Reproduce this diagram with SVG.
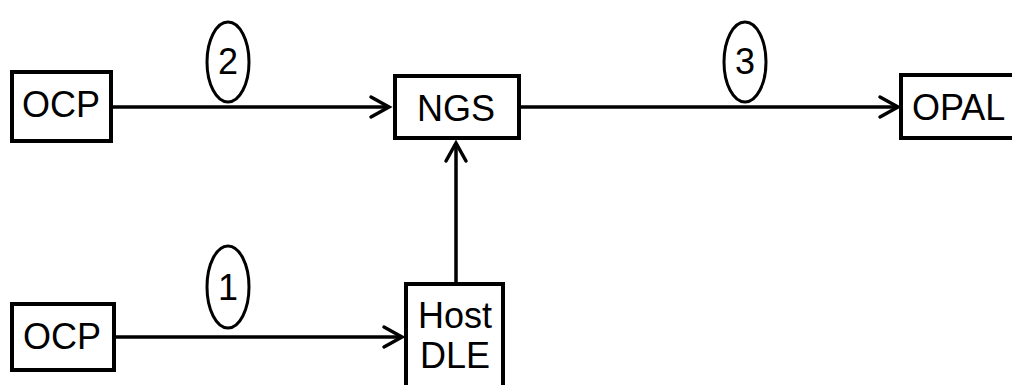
<svg xmlns="http://www.w3.org/2000/svg" width="1012" height="385" viewBox="0 0 1012 385">
  <defs>
    <style>
      .box { fill: #fff; stroke: #000; stroke-width: 4; }
      .lbl { font-family: "Liberation Sans", Arial, sans-serif; font-size: 36px; fill: #000; text-anchor: middle; }
      .edge { fill: none; stroke: #000; stroke-width: 3.5; }
      .head { fill: none; stroke: #000; stroke-width: 3.5; stroke-linecap: round; stroke-linejoin: miter; }
      .step { fill: #fff; stroke: #000; stroke-width: 3; }
    </style>
  </defs>
  <rect width="1012" height="385" fill="#fff"/>

  <!-- connectors -->
  <g id="connectors">
    <line class="edge" x1="113" y1="107" x2="388" y2="107"/>
    <polyline class="head" points="371,97 389,107 371,117"/>
    <line class="edge" x1="521" y1="107" x2="897" y2="107"/>
    <polyline class="head" points="880,97 898,107 880,117"/>
    <line class="edge" x1="116" y1="337" x2="401" y2="337"/>
    <polyline class="head" points="384,327 402,337 384,347"/>
    <line class="edge" x1="456" y1="283" x2="456" y2="144"/>
    <polyline class="head" points="446,161 456,143 466,161"/>
  </g>

  <!-- step markers -->
  <g id="step-2">
    <ellipse class="step" cx="228" cy="62" rx="21" ry="40"/>
    <text class="lbl" x="228" y="74">2</text>
  </g>
  <g id="step-1">
    <ellipse class="step" cx="228" cy="287" rx="21" ry="41"/>
    <text class="lbl" x="228" y="300">1</text>
  </g>
  <g id="step-3">
    <ellipse class="step" cx="745" cy="62" rx="21" ry="40"/>
    <text class="lbl" x="745" y="74">3</text>
  </g>

  <!-- nodes -->
  <g id="ocp-top">
    <rect class="box" x="12" y="72" width="99" height="69"/>
    <text class="lbl" x="61" y="117">OCP</text>
  </g>
  <g id="ngs">
    <rect class="box" x="395" y="76" width="124" height="62"/>
    <text class="lbl" x="456" y="121">NGS</text>
  </g>
  <g id="opal">
    <rect class="box" x="901" y="75" width="140" height="63"/>
    <text class="lbl" x="912" y="120" style="text-anchor:start">OPAL</text>
  </g>
  <g id="ocp-bottom">
    <rect class="box" x="12" y="304" width="102" height="66"/>
    <text class="lbl" x="62" y="349">OCP</text>
  </g>
  <g id="host-dle">
    <rect class="box" x="406" y="284" width="97" height="130"/>
    <text class="lbl" x="455" y="328">Host</text>
    <text class="lbl" x="455" y="368">DLE</text>
  </g>
</svg>
